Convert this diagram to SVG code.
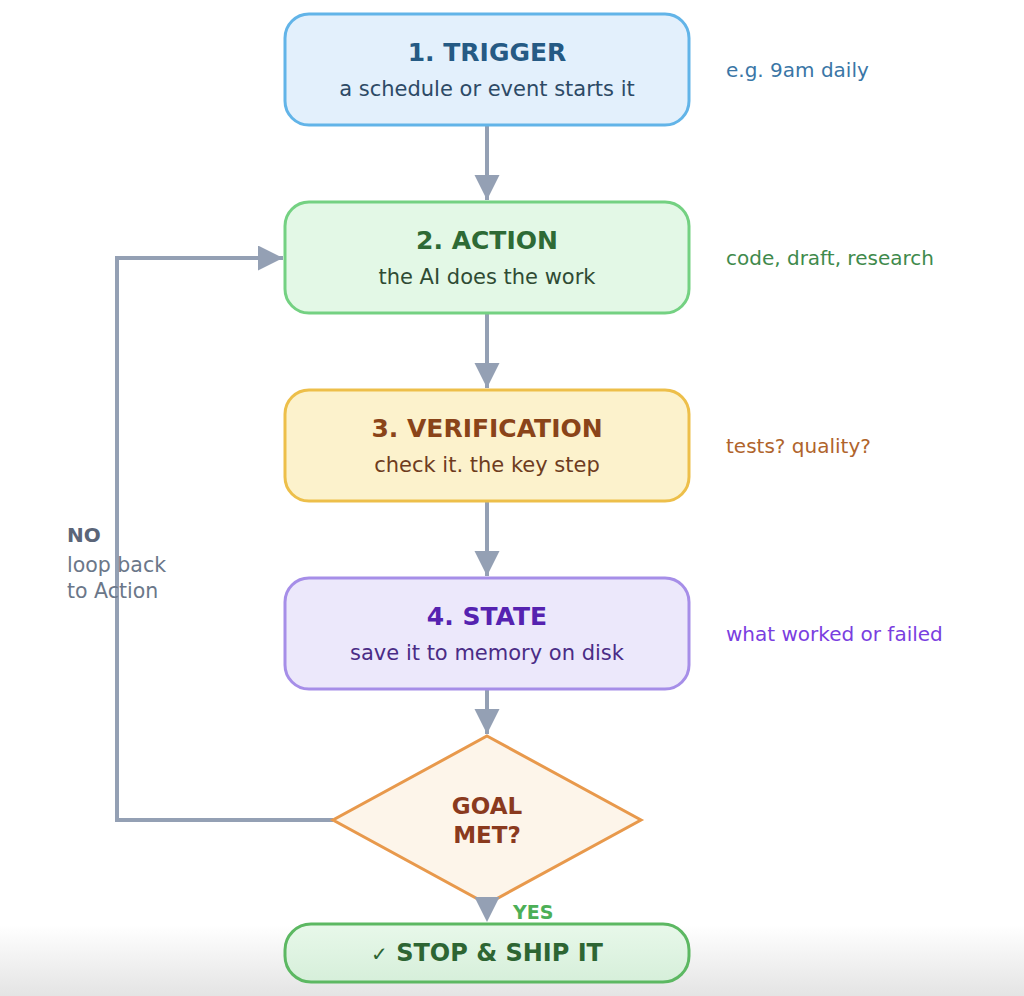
<svg xmlns="http://www.w3.org/2000/svg" width="1024" height="996" viewBox="0 0 1024 996">
<defs>
<linearGradient id="bg" x1="0" y1="0" x2="0" y2="1">
<stop offset="0" stop-color="#ffffff"/>
<stop offset="1" stop-color="#e4e4e4"/>
</linearGradient>
<linearGradient id="stopfill" x1="0" y1="0" x2="0" y2="1">
<stop offset="0" stop-color="#e8f8ea"/>
<stop offset="1" stop-color="#d6efda"/>
</linearGradient>
<marker id="ah" markerWidth="25" markerHeight="26" refX="25" refY="12.5" orient="auto" markerUnits="userSpaceOnUse">
<path d="M0,0 L25,12.5 L0,25 Z" fill="#94a0b4"/>
</marker>
</defs>
<style>
text{font-family:"DejaVu Sans","Liberation Sans",sans-serif}
.box{stroke-width:3}
.title{font-size:25px;font-weight:bold;text-anchor:middle}
.sub{font-size:21px;text-anchor:middle}
.note{font-size:20px}
.conn{fill:none;stroke:#94a0b4;stroke-width:4}
</style>
<rect x="0" y="0" width="1024" height="996" fill="#ffffff"/>
<rect x="0" y="925" width="1024" height="71" fill="url(#bg)"/>

<g id="connectors">
<line class="conn" x1="487" y1="125" x2="487" y2="200" marker-end="url(#ah)"/>
<line class="conn" x1="487" y1="313" x2="487" y2="388" marker-end="url(#ah)"/>
<line class="conn" x1="487" y1="501" x2="487" y2="576" marker-end="url(#ah)"/>
<line class="conn" x1="487" y1="689" x2="487" y2="734" marker-end="url(#ah)"/>
<path class="conn" d="M333,820 L117,820 L117,258 L283,258" marker-end="url(#ah)"/>
</g>

<g id="trigger">
<rect class="box" x="285" y="14" width="404" height="111" rx="24" fill="#e3f0fc" stroke="#62b4e8"/>
<text class="title" x="487" y="61" fill="#255a84">1. TRIGGER</text>
<text class="sub" x="487" y="96" fill="#2d4a66">a schedule or event starts it</text>
<text class="note" x="726" y="77" fill="#3a76a6">e.g. 9am daily</text>
</g>

<g id="action">
<rect class="box" x="285" y="202" width="404" height="111" rx="24" fill="#e3f8e6" stroke="#74d182"/>
<text class="title" x="487" y="249" fill="#2e6a35">2. ACTION</text>
<text class="sub" x="487" y="284" fill="#2f4b34">the AI does the work</text>
<text class="note" x="726" y="265" fill="#3f8a4c">code, draft, research</text>
</g>

<g id="verification">
<rect class="box" x="285" y="390" width="404" height="111" rx="24" fill="#fcf2cc" stroke="#edbf4a"/>
<text class="title" x="487" y="437" fill="#8a4419">3. VERIFICATION</text>
<text class="sub" x="487" y="472" fill="#6e3c1e">check it. the key step</text>
<text class="note" x="726" y="453" fill="#b0642c">tests? quality?</text>
</g>

<g id="state">
<rect class="box" x="285" y="578" width="404" height="111" rx="24" fill="#ece8fb" stroke="#a68ee8"/>
<text class="title" x="487" y="625" fill="#5522b0">4. STATE</text>
<text class="sub" x="487" y="660" fill="#4a2c86">save it to memory on disk</text>
<text class="note" x="726" y="641" fill="#7a3ee0">what worked or failed</text>
</g>

<g id="goal">
<polygon points="487,736 641,820 487,904 333,820" fill="#fdf5ea" stroke="#e8994c" stroke-width="3"/>
<text x="487" y="814" font-size="23" font-weight="bold" text-anchor="middle" fill="#8a3a1e">GOAL</text>
<text x="487" y="843" font-size="23" font-weight="bold" text-anchor="middle" fill="#8a3a1e">MET?</text>
</g>

<g id="yes-connector">
<path d="M474.5,897 L499.5,897 L487,922 Z" fill="#94a0b4"/>
<text x="513" y="919" font-size="19" font-weight="bold" fill="#4caf57">YES</text>
</g>

<g id="no-label">
<text x="67" y="542" font-size="20" font-weight="bold" fill="#5b6578">NO</text>
<text x="67" y="572" font-size="20.5" fill="#6b7789">loop back</text>
<text x="67" y="598" font-size="20.5" fill="#6b7789">to Action</text>
</g>

<g id="stop">
<rect x="285" y="924" width="404" height="58" rx="26" fill="url(#stopfill)" stroke="#5cb862" stroke-width="3"/>
<text x="487" y="961" font-size="24" font-weight="bold" text-anchor="middle" fill="#2d6533"><tspan font-weight="normal" font-size="20">✓</tspan> STOP &amp; SHIP IT</text>
</g>
</svg>
